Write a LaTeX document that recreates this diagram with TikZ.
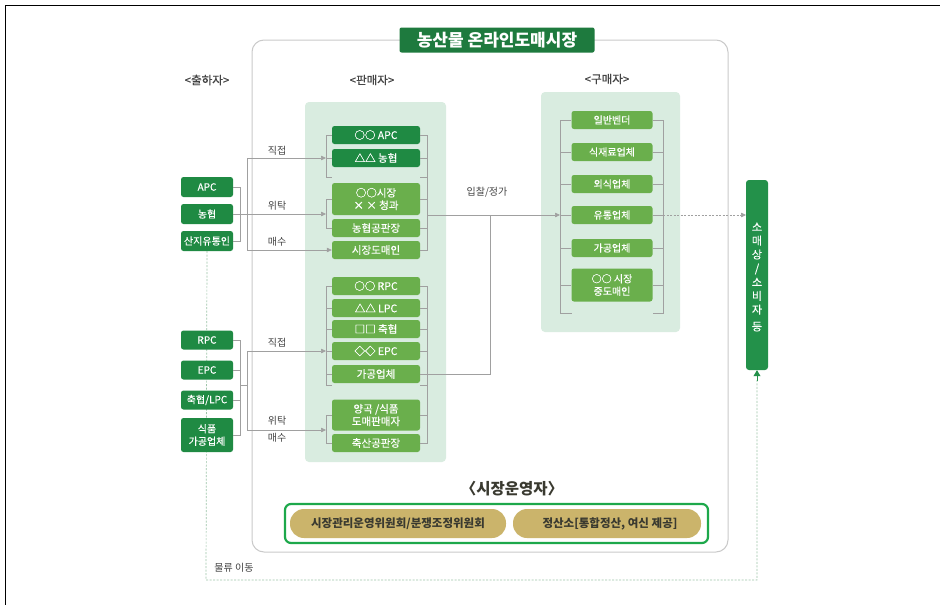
\documentclass[tikz,border=0pt]{standalone}
\usepackage{fontspec}
\setmainfont{Noto Sans CJK KR}
\newfontfamily\medfont{Noto Sans CJK KR}[FakeBold=0.35]
\usetikzlibrary{arrows.meta,backgrounds}
\definecolor{dgreen}{HTML}{1F8A43}
\definecolor{lgreen}{HTML}{6AAF4C}
\definecolor{panel}{HTML}{D9ECE0}
\definecolor{titleg}{HTML}{1E7A3E}
\definecolor{barg}{HTML}{23914A}
\definecolor{gold}{HTML}{CBB46B}
\definecolor{frameg}{HTML}{1DA84B}
\definecolor{conn}{HTML}{A0A0A0}
\definecolor{outerc}{HTML}{CACACA}
\definecolor{logi}{HTML}{9CC4A8}
\definecolor{txtg}{HTML}{444444}
\definecolor{txtd}{HTML}{3A3A30}
\tikzset{
  box/.style={rounded corners=2.5pt, inner sep=0pt, align=center, text=white, font=\medfont\fontsize{10.5}{12.5}\selectfont},
  dbox/.style={box, fill=dgreen},
  lbox/.style={box, fill=lgreen},
  shipbox/.style={dbox, minimum width=52pt, minimum height=20pt, font=\medfont\fontsize{10}{12.5}\selectfont},
  selbox/.style={minimum width=88pt, minimum height=18pt},
  buybox/.style={lbox, minimum width=81pt, minimum height=18pt, font=\medfont\fontsize{10}{12.5}\selectfont},
  ln/.style={draw=conn, line width=0.6pt},
  arr/.style={ln, -{Triangle[length=5pt,width=4.5pt]}},
  lbl/.style={font=\fontsize{10}{12}\selectfont, text=txtg, inner sep=0pt},
  head/.style={font=\medfont\fontsize{11.5}{13}\selectfont, text=txtg, inner sep=0pt},
  pill/.style={fill=gold, rounded corners=14pt, minimum height=29pt, inner sep=0pt, text=txtd, font=\bfseries\fontsize{11.5}{13}\selectfont},
}
\begin{document}
\begin{tikzpicture}[x=1pt,y=-1pt]
\useasboundingbox (0,0) rectangle (940,605);
% frame
\draw[black, line width=1pt] (5,605) -- (5,5) -- (940,5);
% outer market box
\draw[outerc, line width=1pt, rounded corners=12pt] (252,40) rectangle (728,552);
% panels
\fill[panel, rounded corners=4pt] (305,102) rectangle (446,462);
\fill[panel, rounded corners=4pt] (541,92) rectangle (680,332);
% title
\node[fill=titleg, rounded corners=2pt, minimum width=195pt, minimum height=25pt, inner sep=0pt, text=white, font=\bfseries\fontsize{17}{19}\selectfont] (title) at (497,40) {농산물 온라인도매시장};
% headings
\node[head] (h1) at (207,80) {<출하자>};
\node[head] (h2) at (372,80) {<판매자>};
\node[head] (h3) at (607,79) {<구매자>};
% shippers
\node[shipbox] (sAPC) at (207,187) {APC};
\node[shipbox] (sNH) at (207,214) {농협};
\node[shipbox] (sSJ) at (207,241) {산지유통인};
\node[shipbox, minimum height=19pt] (sRPC) at (207,340) {RPC};
\node[shipbox, minimum height=19pt] (sEPC) at (207,370) {EPC};
\node[shipbox, minimum height=19pt] (sLPC) at (207,400) {축협/LPC};
\node[shipbox, minimum height=34pt] (sFood) at (207,435) {식품\\가공업체};
% sellers
\node[dbox, selbox] (bAPC) at (376,135) {○○ APC};
\node[dbox, selbox] (bNH) at (376,158) {△△ 농협};
\node[lbox, selbox, minimum height=32pt] (bCG) at (376,199) {○○시장\\× × 청과};
\node[lbox, selbox] (bGP) at (376,228) {농협공판장};
\node[lbox, selbox] (bDM) at (376,250) {시장도매인};
\node[lbox, selbox] (bRPC) at (376,286) {○○ RPC};
\node[lbox, selbox] (bLPC) at (376,308) {△△ LPC};
\node[lbox, selbox] (bCH) at (376,329) {□□ 축협};
\node[lbox, selbox] (bEPC) at (376,351) {◇◇ EPC};
\node[lbox, selbox] (bGG) at (376,374) {가공업체};
\node[lbox, selbox, minimum height=31pt] (bYG) at (376,415) {양곡 /식품\\도매판매자};
\node[lbox, selbox] (bCS) at (376,443) {축산공판장};
% buyers
\node[buybox] (k1) at (612,120) {일반벤더};
\node[buybox] (k2) at (612,152) {식재료업체};
\node[buybox] (k3) at (612,184) {외식업체};
\node[buybox] (k4) at (612,215) {유통업체};
\node[buybox] (k5) at (612,248) {가공업체};
\node[buybox, minimum height=33pt] (k6) at (612,285) {○○ 시장\\중도매인};
% consumer bar
\node[fill=barg, rounded corners=3pt, minimum width=22pt, minimum height=190pt, inner sep=0pt] (bar) at (757,275) {};
\node[text=white, align=center, inner sep=0pt, font=\medfont\fontsize{11}{13.8}\selectfont] (bartxt) at (757,277) {소\\매\\상\\/\\소\\비\\자\\[3pt]등};
% coordinates for brackets
\coordinate (xSR) at (240,0);
\coordinate (xSJ) at (247,0);
\coordinate (xL) at (326,0);
\coordinate (xR) at (427,0);
\coordinate (xBL) at (560,0);
\coordinate (xBR) at (663,0);
% --- top shippers
\draw[ln] (sAPC.east) -- (sAPC.east -| xSR) -- (sSJ.east -| xSR) -- (sSJ.east);
\coordinate (j1) at (247,158);
\coordinate (j2) at (247,250);
\coordinate (g1in) at (326,158);
\coordinate (g2in) at (326,214);
\draw[ln] (j1) -- (j2);
\draw[arr] (j1) -- (g1in);
\draw[arr] (sNH.east) -- (g2in);
\draw[arr] (j2) -- (bDM.west);
\node[lbl] (lz1) at (277,151) {직접};
\node[lbl] (lw1) at (277,206) {위탁};
\node[lbl] (lm1) at (277,242) {매수};
% group 1/2 left brackets
\draw[ln] (bAPC.west) -- (bAPC.west -| xL) -- (326,177) -- (332,177);
\draw[ln] (g1in) -- (bNH.west);
\draw[ln] (bCG.west) -- (bCG.west -| xL) -- (bGP.west -| xL) -- (bGP.west);
% top right bracket
\draw[ln] (bAPC.east) -- (bAPC.east -| xR) -- (bDM.east -| xR) -- (bDM.east);
\foreach \n in {bNH,bCG,bGP} \draw[ln] (\n.east) -- (\n.east -| xR);
\draw[ln] (420,177) -- (427,177);
\coordinate (outT) at (427,215);
\coordinate (buyIn) at (560,215);
\draw[arr] (outT) -- (buyIn);
\node[lbl] (bidlbl) at (487,192) {입찰/정가};
% lower shippers
\draw[ln] (sRPC.east) -- (sRPC.east -| xSR) -- (sFood.east -| xSR) -- (sFood.east);
\foreach \n in {sEPC,sLPC} \draw[ln] (\n.east) -- (\n.east -| xSR);
\coordinate (j3) at (247,351);
\coordinate (j4) at (247,430);
\coordinate (g3in) at (326,351);
\coordinate (g4in) at (326,430);
\draw[ln] (240,385) -- (247,385);
\draw[ln] (j3) -- (j4);
\draw[arr] (j3) -- (g3in);
\draw[arr] (j4) -- (g4in);
\node[lbl] (lz2) at (277,343) {직접};
\node[lbl] (lw2) at (277,421) {위탁};
\node[lbl] (lm2) at (277,438) {매수};
% lower left brackets
\draw[ln] (bRPC.west) -- (bRPC.west -| xL) -- (326,385) -- (332,385);
\foreach \n in {bLPC,bCH,bEPC,bGG} \draw[ln] (\n.west) -- (\n.west -| xL);
\draw[ln] (bYG.west) -- (bYG.west -| xL) -- (bCS.west -| xL) -- (bCS.west);
% lower right bracket
\draw[ln] (bRPC.east) -- (bRPC.east -| xR) -- (bCS.east -| xR) -- (bCS.east);
\foreach \n in {bLPC,bCH,bEPC,bGG,bYG} \draw[ln] (\n.east) -- (\n.east -| xR);
\draw[ln] (420,385) -- (427,385);
\coordinate (up1) at (490,374);
\draw[ln] (bGG.east -| xR) -- (up1) -- (490,215);
% buyer brackets
\draw[ln] (k1.west) -- (k1.west -| xBL) -- (560,313) -- (572,313);
\foreach \n in {k2,k3,k4,k5,k6} \draw[ln] (\n.west) -- (\n.west -| xBL);
\draw[ln] (k1.east) -- (k1.east -| xBR) -- (663,313) -- (653,313);
\foreach \n in {k2,k3,k4,k5,k6} \draw[ln] (\n.east) -- (\n.east -| xBR);
\coordinate (bOut) at (663,215);
\coordinate (barIn) at (746,215);
\draw[draw=conn, line width=0.6pt, dash pattern=on 2pt off 1.5pt, -{Triangle[length=5pt,width=4.5pt]}] (bOut) -- (barIn);
% operators
\node[font=\bfseries\fontsize{15.5}{17}\selectfont, text=txtd, inner sep=0pt] (opt) at (512,489) {〈시장운영자〉};
\draw[frameg, line width=2.2pt, rounded corners=6pt] (285,504) rectangle (708,543);
\node[pill, minimum width=216pt] (p1) at (398,523.5) {시장관리운영위원회/분쟁조정위원회};
\node[pill, minimum width=188pt] (p2) at (607,523.5) {\hspace{6pt}정산소[통합정산, 여신 제공]};
% logistics
\node[lbl] (logl) at (234,568) {물류 이동};
\coordinate (l1) at (206,580);
\coordinate (l2) at (757,580);
\begin{scope}[on background layer]
\fill[white] (0,0) rectangle (940,605);
\draw[logi, line width=0.7pt, dash pattern=on 2pt off 1.5pt] (sSJ.south) -- (l1) -- (l2) -- (757,380);
\end{scope}
\draw[barg, line width=0.7pt, -{Triangle[length=6pt,width=7pt]}] (757,381) -- (bar.south);
\end{tikzpicture}
\end{document}
